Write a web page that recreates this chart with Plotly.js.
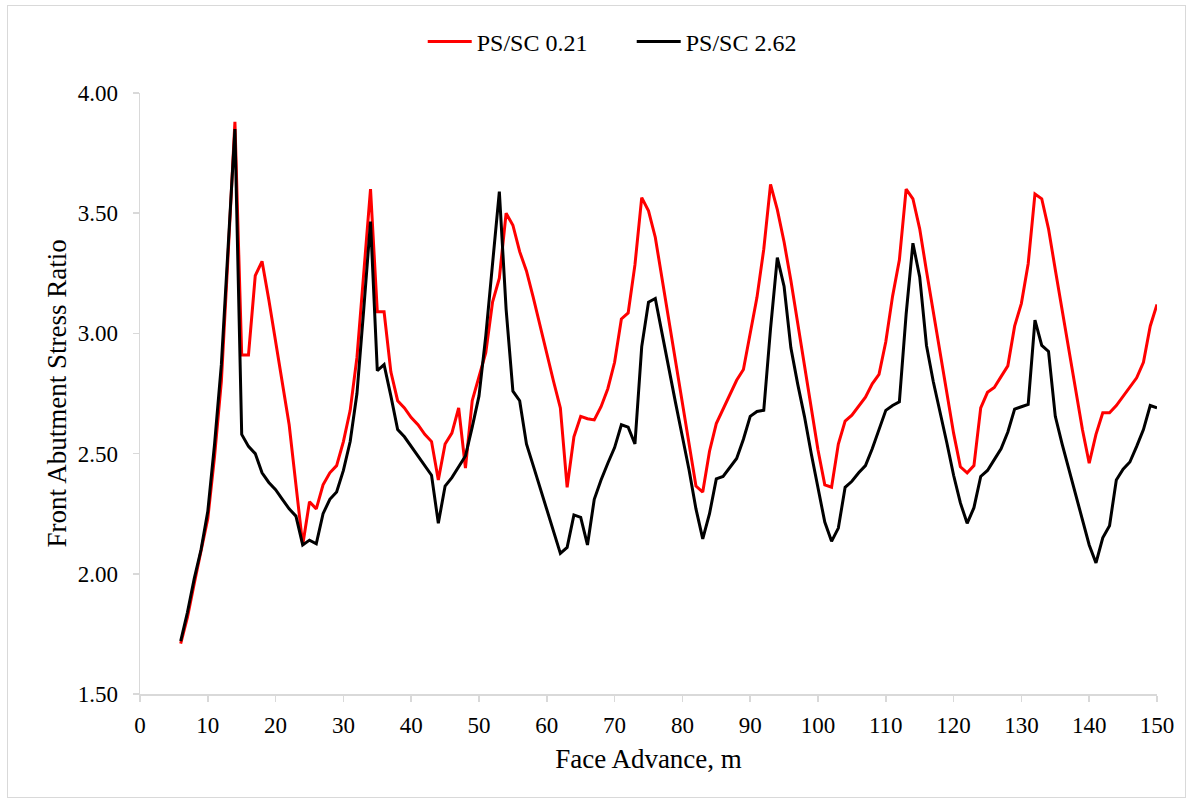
<!DOCTYPE html>
<html>
<head>
<meta charset="utf-8">
<script src="https://cdn.plot.ly/plotly-3.0.1.min.js"></script>
<style>
  html, body { margin: 0; padding: 0; background: #ffffff; }
  #wrap { position: relative; width: 1194px; height: 803px; }
  #chart { width: 1194px; height: 803px; }
  #frame { position: absolute; left: 7px; top: 5px; width: 1177px; height: 791px;
           border: 1px solid #d9d9d9; pointer-events: none; }
</style>
</head>
<body>
<div id="wrap">
  <div id="chart"></div>
  <div id="frame"></div>
</div>
<script>
const faceAdvance = [6,7,8,9,10,11,12,13,14,15,16,17,18,19,20,21,22,23,24,25,26,27,28,29,30,
  31,32,33,34,35,36,37,38,39,40,41,42,43,44,45,46,47,48,49,50,51,52,53,54,55,56,57,58,59,60,
  61,62,63,64,65,66,67,68,69,70,71,72,73,74,75,76,77,78,79,80,81,82,83,84,85,86,87,88,89,90,
  91,92,93,94,95,96,97,98,99,100,101,102,103,104,105,106,107,108,109,110,111,112,113,114,115,
  116,117,118,119,120,121,122,123,124,125,126,127,128,129,130,131,132,133,134,135,136,137,138,
  139,140,141,142,143,144,145,146,147,148,149,150];

const psSc021 = [1.71,1.82,1.96,2.09,2.23,2.49,2.80,3.33,3.88,2.91,2.91,3.24,3.30,3.14,2.97,
  2.80,2.62,2.37,2.12,2.30,2.27,2.37,2.42,2.45,2.55,2.68,2.90,3.25,3.60,3.09,3.09,2.84,2.72,
  2.69,2.65,2.62,2.58,2.55,2.39,2.54,2.585,2.69,2.44,2.72,2.82,2.92,3.13,3.23,3.50,3.45,3.34,
  3.26,3.15,3.03,2.92,2.80,2.69,2.36,2.57,2.655,2.645,2.64,2.695,2.77,2.88,3.06,3.085,3.285,
  3.565,3.51,3.40,3.23,3.055,2.88,2.71,2.535,2.365,2.34,2.51,2.625,2.685,2.745,2.805,2.85,
  3.005,3.15,3.35,3.62,3.515,3.38,3.22,3.04,2.86,2.68,2.515,2.37,2.36,2.54,2.635,2.66,2.695,
  2.735,2.79,2.83,2.965,3.155,3.305,3.60,3.56,3.435,3.26,3.09,2.925,2.755,2.585,2.445,2.42,
  2.45,2.69,2.755,2.775,2.82,2.865,3.03,3.125,3.29,3.58,3.56,3.435,3.265,3.095,2.93,2.755,
  2.60,2.46,2.58,2.67,2.67,2.70,2.74,2.775,2.815,2.88,3.03,3.12];

const psSc262 = [1.72,1.84,1.98,2.10,2.26,2.54,2.87,3.36,3.85,2.58,2.53,2.50,2.42,2.38,2.35,
  2.31,2.27,2.24,2.12,2.14,2.125,2.25,2.31,2.34,2.43,2.55,2.75,3.10,3.465,2.845,2.87,2.74,2.60,
  2.57,2.53,2.49,2.45,2.41,2.21,2.365,2.40,2.445,2.49,2.61,2.74,2.99,3.29,3.59,3.10,2.76,2.72,
  2.54,2.45,2.36,2.27,2.18,2.085,2.11,2.245,2.235,2.12,2.31,2.39,2.46,2.525,2.62,2.61,2.54,
  2.945,3.13,3.145,3.00,2.85,2.71,2.57,2.43,2.27,2.145,2.25,2.395,2.405,2.44,2.48,2.56,2.655,
  2.675,2.68,3.02,3.315,3.195,2.94,2.79,2.655,2.50,2.355,2.215,2.135,2.19,2.36,2.385,2.42,
  2.45,2.52,2.60,2.68,2.70,2.715,3.08,3.375,3.235,2.95,2.80,2.675,2.545,2.41,2.295,2.21,2.275,
  2.405,2.43,2.475,2.52,2.59,2.685,2.695,2.705,3.055,2.95,2.925,2.655,2.54,2.435,2.33,2.23,
  2.12,2.045,2.15,2.20,2.39,2.435,2.465,2.53,2.60,2.70,2.69];

const seriesNames = ["PS/SC 0.21", "PS/SC 2.62"];
const xTickVals = [0,10,20,30,40,50,60,70,80,90,100,110,120,130,140,150];
const yTickVals = [1.5,2.0,2.5,3.0,3.5,4.0];
const yTickText = ["1.50","2.00","2.50","3.00","3.50","4.00"];

const fontFam = "Liberation Serif, Times New Roman, serif";
const axisGray = "#d9d9d9";

const traces = [
  { x: faceAdvance, y: psSc021, name: seriesNames[0], type: "scatter", mode: "lines",
    line: { color: "#ff0000", width: 3 } },
  { x: faceAdvance, y: psSc262, name: seriesNames[1], type: "scatter", mode: "lines",
    line: { color: "#000000", width: 3 } }
];

const layout = {
  width: 1194, height: 803,
  margin: { l: 140, r: 37, t: 93, b: 109 },
  paper_bgcolor: "#ffffff", plot_bgcolor: "#ffffff",
  font: { family: fontFam, color: "#000000", size: 23 },
  showlegend: true,
  legend: { orientation: "h", x: 0.278, xanchor: "left", y: 1.085, yanchor: "middle",
            font: { family: fontFam, size: 24, color: "#000000" },
            itemwidth: 44, entrywidth: 150, tracegroupgap: 0, bgcolor: "rgba(0,0,0,0)" },
  xaxis: {
    range: [0, 150], tickvals: xTickVals, ticktext: xTickVals.map(String),
    showgrid: false, zeroline: false, showline: true, linecolor: axisGray, linewidth: 1.5,
    ticks: "outside", ticklen: 6, tickcolor: axisGray, tickwidth: 1.5,
    ticklabelstandoff: 4,
    tickfont: { family: fontFam, size: 23, color: "#000000" },
    title: { text: "Face Advance, m", font: { family: fontFam, size: 27, color: "#000000" }, standoff: 12 }
  },
  yaxis: {
    range: [1.5, 4.0], tickvals: yTickVals, ticktext: yTickText,
    showgrid: false, zeroline: false, showline: true, linecolor: axisGray, linewidth: 1.5,
    ticks: "outside", ticklen: 6, tickcolor: axisGray, tickwidth: 1.5,
    ticklabelstandoff: 10,
    tickfont: { family: fontFam, size: 23, color: "#000000" },
    title: { text: "Front Abutment Stress Ratio", font: { family: fontFam, size: 27, color: "#000000" }, standoff: 3 }
  }
};

Plotly.newPlot("chart", traces, layout, { displayModeBar: false, staticPlot: true });
</script>
</body>
</html>
